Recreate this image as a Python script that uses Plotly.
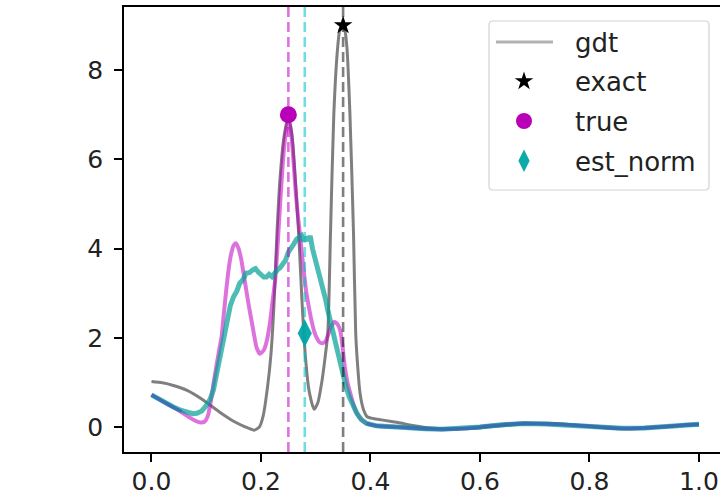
import plotly.graph_objects as go

# ---------------- data ----------------
gdt_x = [0.000, 0.020, 0.040, 0.065, 0.095, 0.126, 0.150, 0.170, 0.187, 0.197,
         0.204, 0.212, 0.218, 0.224, 0.229, 0.235, 0.242, 0.250, 0.257, 0.263,
         0.269, 0.275, 0.281, 0.288, 0.297, 0.304, 0.311, 0.317, 0.322, 0.327,
         0.333, 0.340, 0.344, 0.349, 0.353, 0.357, 0.3625, 0.369, 0.373, 0.377,
         0.381, 0.387, 0.394, 0.405, 0.420, 0.450, 0.480, 0.510, 0.550, 0.600,
         0.650, 0.700, 0.740, 0.780, 0.830, 0.870, 0.920, 0.960, 1.000]
gdt_y = [1.02, 0.99, 0.93, 0.82, 0.60, 0.32, 0.13, 0.01, -0.07, 0.00,
         0.25, 0.90, 1.60, 2.80, 4.30, 5.60, 6.50, 6.95, 6.50, 5.50,
         4.30, 2.80, 1.60, 0.80, 0.40, 0.55, 1.00, 1.55, 2.10, 4.35,
         7.00, 8.50, 8.90, 9.00, 8.90, 8.50, 7.00, 4.35, 2.10, 1.30,
         0.75, 0.40, 0.23, 0.19, 0.16, 0.10, 0.03, -0.02, -0.04, -0.02,
         0.04, 0.08, 0.08, 0.04, -0.02, -0.04, -0.01, 0.03, 0.05]

true_x = [0.000, 0.020, 0.040, 0.055, 0.070, 0.080, 0.090, 0.097, 0.103, 0.108,
          0.113, 0.119, 0.124, 0.128, 0.134, 0.140, 0.145, 0.150, 0.154, 0.159,
          0.164, 0.168, 0.172, 0.178, 0.184, 0.192, 0.198, 0.205, 0.210, 0.216,
          0.221, 0.226, 0.231, 0.236, 0.241, 0.246, 0.250, 0.254, 0.258, 0.262,
          0.266, 0.270, 0.274, 0.279, 0.283, 0.288, 0.292, 0.297, 0.301, 0.307,
          0.313, 0.318, 0.323, 0.328, 0.334, 0.340, 0.345, 0.349, 0.353, 0.358,
          0.363, 0.369, 0.375, 0.383, 0.393, 0.410, 0.430, 0.450, 0.500, 0.530,
          0.560, 0.600, 0.640, 0.680, 0.720, 0.770, 0.820, 0.860, 0.900, 0.940,
          0.970, 1.000]
true_y = [0.72, 0.58, 0.44, 0.33, 0.21, 0.14, 0.10, 0.12, 0.25, 0.55,
          0.95, 1.40, 1.75, 2.02, 2.77, 3.45, 3.85, 4.07, 4.12, 4.00,
          3.75, 3.45, 3.15, 2.70, 2.30, 1.78, 1.64, 1.72, 1.90, 2.30,
          2.80, 3.30, 4.20, 5.20, 6.10, 6.65, 6.85, 6.70, 6.20, 5.50,
          4.90, 4.45, 3.97, 3.40, 3.00, 2.65, 2.40, 2.15, 2.02, 1.90,
          1.88, 1.92, 2.08, 2.25, 2.36, 2.30, 2.15, 1.80, 1.35, 1.00,
          0.76, 0.50, 0.31, 0.17, 0.08, 0.03, 0.01, 0.00, -0.04, -0.05,
          -0.04, 0.00, 0.05, 0.08, 0.07, 0.04, 0.00, -0.03, -0.02, 0.01,
          0.04, 0.06]

est_x = [0.000, 0.020, 0.040, 0.055, 0.065, 0.075, 0.083, 0.092, 0.100, 0.107,
         0.113, 0.119, 0.124, 0.129, 0.134, 0.139, 0.144, 0.150, 0.156, 0.161,
         0.167, 0.173, 0.179, 0.185, 0.190, 0.195, 0.200, 0.205, 0.210, 0.215,
         0.220, 0.225, 0.230, 0.235, 0.240, 0.245, 0.250, 0.255, 0.260, 0.265,
         0.270, 0.274, 0.278, 0.282, 0.286, 0.290, 0.294, 0.298, 0.303, 0.308,
         0.313, 0.318, 0.322, 0.327, 0.331, 0.336, 0.340, 0.345, 0.349, 0.355,
         0.361, 0.368, 0.375, 0.383, 0.393, 0.410, 0.430, 0.450, 0.500, 0.530,
         0.560, 0.600, 0.640, 0.680, 0.720, 0.770, 0.820, 0.860, 0.900, 0.940,
         0.970, 1.000]
est_y = [0.72, 0.58, 0.45, 0.37, 0.32, 0.30, 0.31, 0.36, 0.48, 0.62,
         0.82, 1.20, 1.55, 1.90, 2.22, 2.50, 2.72, 2.92, 3.05, 3.22,
         3.30, 3.45, 3.46, 3.52, 3.55, 3.47, 3.42, 3.36, 3.36, 3.42,
         3.37, 3.46, 3.52, 3.57, 3.66, 3.74, 3.92, 4.04, 4.10, 4.21,
         4.25, 4.29, 4.16, 4.26, 4.18, 4.28, 4.00, 3.82, 3.55, 3.27,
         3.05, 2.86, 2.62, 2.36, 2.10, 1.88, 1.66, 1.42, 1.20, 0.92,
         0.68, 0.48, 0.31, 0.17, 0.08, 0.03, 0.01, 0.00, -0.04, -0.05,
         -0.04, 0.00, 0.05, 0.08, 0.07, 0.04, 0.00, -0.03, -0.02, 0.01,
         0.04, 0.06]

# where the two estimates overlap, the reference shows a blue line
blue_x = [0.000, 0.020, 0.040, 0.055, None, 0.393, 0.410, 0.430, 0.450, 0.500,
          0.530, 0.560, 0.600, 0.640, 0.680, 0.720, 0.770, 0.820, 0.860, 0.900,
          0.940, 0.970, 1.000]
blue_y = [0.72, 0.58, 0.445, 0.35, None, 0.08, 0.03, 0.01, 0.00, -0.04,
          -0.05, -0.04, 0.00, 0.05, 0.08, 0.07, 0.04, 0.00, -0.03, -0.02,
          0.01, 0.04, 0.06]

exact_x, exact_y = [0.35], [9.0]
truept_x, truept_y = [0.25], [7.0]
estpt_x, estpt_y = [0.28], [2.1]

x_ticks = [0.0, 0.2, 0.4, 0.6, 0.8, 1.0]
x_ticklabels = ["0.0", "0.2", "0.4", "0.6", "0.8", "1.0"]
y_ticks = [0, 2, 4, 6, 8]
y_ticklabels = ["0", "2", "4", "6", "8"]

X_RANGE = [-0.0502, 1.0384]
Y_RANGE = [-0.560, 9.412]

# ---------------- styles ----------------
GRAY = "rgba(0,0,0,0.5)"
MAG = "rgba(191,0,191,0.55)"
CYAN_CURVE = "rgba(0,160,150,0.7)"
CYAN_LINE = "rgba(0,191,191,0.55)"
FONT = "DejaVu Sans"

# layout geometry in figure pixels
W, H = 720, 502
ML, MR, MT, MB = 124, 0, 7, 50
PW, PH = W - ML - MR, H - MT - MB


def px2paper_x(px):
    return (px - ML) / PW


def px2paper_y(py):
    return 1 - (py - MT) / PH


fig = go.Figure()

fig.add_trace(go.Scatter(x=gdt_x, y=gdt_y, mode="lines", showlegend=False,
                         line=dict(color=GRAY, width=3, shape="spline", smoothing=0.6)))
fig.add_trace(go.Scatter(x=true_x, y=true_y, mode="lines", showlegend=False,
                         line=dict(color=MAG, width=4, shape="spline", smoothing=0.5)))
fig.add_trace(go.Scatter(x=est_x, y=est_y, mode="lines", showlegend=False,
                         line=dict(color=CYAN_CURVE, width=5)))
fig.add_trace(go.Scatter(x=blue_x, y=blue_y, mode="lines", showlegend=False,
                         connectgaps=False,
                         line=dict(color="rgba(55,105,185,0.8)", width=3.2,
                                   shape="spline", smoothing=0.5)))

# vertical dashed lines
for xv, col in [(truept_x[0], MAG), (estpt_x[0], CYAN_LINE), (exact_x[0], GRAY)]:
    fig.add_trace(go.Scatter(x=[xv, xv], y=Y_RANGE, mode="lines", showlegend=False,
                             line=dict(color=col, width=2.6, dash="10px,5px")))

# legend entries
fig.add_trace(go.Scatter(x=[None], y=[None], mode="lines", name="gdt",
                         legendgroup="a",
                         line=dict(color="rgba(0,0,0,0)", width=3)))
fig.add_trace(go.Scatter(x=exact_x, y=exact_y, mode="markers", name="exact",
                         legendgroup="b",
                         marker=dict(symbol="star", size=14, color="black",
                                     line=dict(width=0))))
fig.add_trace(go.Scatter(x=truept_x, y=truept_y, mode="markers", name="true",
                         legendgroup="c",
                         marker=dict(symbol="circle", size=17, color="rgb(185,0,185)",
                                     line=dict(width=0))))
fig.add_trace(go.Scatter(x=estpt_x, y=estpt_y, mode="markers", name="est_norm",
                         legendgroup="d",
                         marker=dict(symbol="diamond-tall", size=20,
                                     color="rgba(0,165,165,0.95)", line=dict(width=0))))

# legend frame (rounded) and gdt sample line
bx0, bx1 = px2paper_x(489), px2paper_x(709)
by0, by1 = px2paper_y(21), px2paper_y(190)
rx, ry = 4 / PW, 4 / PH
frame = (f"M {bx0+rx},{by0} L {bx1-rx},{by0} Q {bx1},{by0} {bx1},{by0-ry} "
         f"L {bx1},{by1+ry} Q {bx1},{by1} {bx1-rx},{by1} "
         f"L {bx0+rx},{by1} Q {bx0},{by1} {bx0},{by1+ry} "
         f"L {bx0},{by0-ry} Q {bx0},{by0} {bx0+rx},{by0} Z")
shapes = [
    dict(type="path", xref="paper", yref="paper", path=frame,
         fillcolor="rgba(255,255,255,0.85)", line=dict(color="rgb(210,210,210)", width=1.2),
         layer="above"),
    dict(type="line", xref="paper", yref="paper",
         x0=px2paper_x(496), x1=px2paper_x(553), y0=px2paper_y(42), y1=px2paper_y(42),
         line=dict(color="rgba(0,0,0,0.3)", width=3), layer="above"),
]

fig.update_layout(
    width=W, height=H,
    margin=dict(l=ML, r=MR, t=MT, b=MB),
    paper_bgcolor="white", plot_bgcolor="white",
    font=dict(family=FONT, size=25, color="#222"),
    showlegend=True,
    shapes=shapes,
    legend=dict(x=px2paper_x(473), y=px2paper_y(18), xanchor="left", yanchor="top",
                bgcolor="rgba(0,0,0,0)", borderwidth=0,
                font=dict(family=FONT, size=26, color="#222"),
                tracegroupgap=3, itemwidth=92),
    xaxis=dict(range=X_RANGE, tickvals=x_ticks, ticktext=x_ticklabels,
               showgrid=False, zeroline=False, showline=True, mirror=True,
               linecolor="black", linewidth=1.5, ticks="outside", ticklen=8,
               tickwidth=1.5, tickcolor="black", ticklabelstandoff=-2,
               automargin=False),
    yaxis=dict(range=Y_RANGE, tickvals=y_ticks, ticktext=y_ticklabels,
               showgrid=False, zeroline=False, showline=True, mirror=False,
               linecolor="black", linewidth=1.5, ticks="outside", ticklen=8,
               tickwidth=1.5, tickcolor="black", ticklabelstandoff=6,
               automargin=False),
)

fig.write_html(
    "out.html",
    config={"displayModeBar": False},
    post_script="document.body.style.margin='0';"
                "document.documentElement.style.overflow='hidden';",
)
